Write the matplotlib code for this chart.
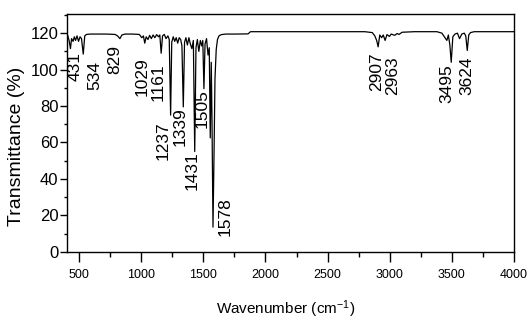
import matplotlib
matplotlib.use("Agg")
import matplotlib.pyplot as plt
from matplotlib.ticker import MultipleLocator

plt.rcParams['font.family'] = ['Liberation Sans', 'DejaVu Sans']
plt.rcParams['mathtext.fontset'] = 'custom'
plt.rcParams['mathtext.rm'] = 'Liberation Sans'
plt.rcParams['mathtext.it'] = 'Liberation Sans'

# IR spectrum (wavenumber in cm-1, transmittance in %)
wavenumber = [400, 410, 420, 431, 440, 452, 462, 472, 484, 496, 508, 520, 534, 546, 560,
              590, 650, 720, 790, 810, 829, 845, 870, 930, 985, 1005, 1018, 1029, 1040,
              1055, 1068, 1082, 1096, 1110, 1125, 1140, 1150, 1161, 1172, 1186, 1200,
              1215, 1226, 1237, 1246, 1258, 1270, 1282, 1294, 1306, 1318, 1328, 1339,
              1349, 1360, 1372, 1384, 1396, 1408, 1420, 1431, 1441, 1452, 1464, 1476,
              1487, 1496, 1505, 1514, 1526, 1538, 1548, 1556, 1564, 1570, 1578, 1586,
              1594, 1604, 1614, 1626, 1645, 1680, 1760, 1860, 1880, 2000, 2300, 2600,
              2800, 2860, 2880, 2895, 2907, 2920, 2935, 2948, 2963, 2978, 2998, 3012,
              3040, 3060, 3075, 3100, 3200, 3380, 3420, 3440, 3460, 3472, 3484, 3495,
              3508, 3525, 3545, 3562, 3580, 3600, 3612, 3624, 3636, 3650, 3680, 3800,
              4000]
transmittance = [120.0, 118.5, 116.0, 111.5, 117.0, 115.5, 118.0, 116.0, 118.5, 115.5, 118.0,
                 117.0, 108.5, 118.5, 119.3, 119.5, 119.5, 119.5, 119.3, 118.5, 117.0,
                 119.0, 119.5, 119.5, 119.3, 117.5, 118.5, 114.5, 118.0, 116.5, 118.8,
                 117.0, 119.0, 117.5, 119.2, 118.0, 119.0, 109.0, 118.5, 119.3, 117.0,
                 118.5, 116.5, 75.0, 115.0, 118.0, 115.5, 117.5, 114.5, 117.5, 116.5,
                 113.0, 79.5, 115.0, 117.5, 113.5, 117.5, 114.0, 111.5, 116.0, 55.0,
                 112.0, 116.5, 110.0, 116.0, 113.0, 116.0, 89.5, 114.0, 117.0, 108.0,
                 112.0, 62.5, 104.0, 72.0, 13.5, 52.0, 95.0, 111.0, 116.5, 118.5, 119.2,
                 119.5, 119.5, 119.6, 120.8, 120.8, 120.8, 120.8, 120.8, 120.3, 118.5,
                 116.0, 112.5, 119.0, 117.5, 119.0, 116.0, 119.2, 118.2, 119.5, 118.8,
                 119.8, 119.3, 120.5, 120.8, 120.8, 120.0, 118.0, 116.0, 119.0, 113.5,
                 104.0, 118.0, 119.5, 120.0, 117.0, 119.5, 120.0, 118.5, 110.5, 119.0,
                 120.3, 120.8, 120.8, 120.8]

peak_labels = ['431', '534', '829', '1029', '1161', '1237', '1339', '1431', '1505', '1578',
               '2907', '2963', '3495', '3624']

# where each rotated label sits (centre x in cm-1, top of text in %)
label_x = [468, 628, 789, 1007, 1135, 1176, 1312, 1409, 1489, 1674, 2896, 3025, 3459, 3621]
label_top = [109.5, 104.5, 113.5, 107, 103.5, 71.5, 79.5, 55, 89, 30, 109.5, 107, 103, 107]

fig = plt.figure(figsize=(5.29, 3.24), dpi=100)
ax = fig.add_axes([0.1259, 0.2231, 0.8457, 0.7336])

ax.plot(wavenumber, transmittance, color='black', linewidth=0.9)

for lab, lx, ly in zip(peak_labels, label_x, label_top):
    ax.text(lx, ly, lab, rotation=90, ha='center', va='top', fontsize=12.5,
            color='black')

ax.set_xlim(400, 4000)
ax.set_ylim(0, 130.5)
ax.xaxis.set_major_locator(MultipleLocator(500))
ax.xaxis.set_minor_locator(MultipleLocator(250))
ax.yaxis.set_major_locator(MultipleLocator(20))
ax.yaxis.set_minor_locator(MultipleLocator(10))
ax.set_yticks(range(0, 121, 20))

ax.tick_params(axis='x', which='major', direction='out', length=7, width=1, pad=5.5,
               labelsize=9)
ax.tick_params(axis='x', which='minor', direction='out', length=3.8, width=1)
ax.tick_params(axis='y', which='major', direction='out', length=5, width=1, pad=0.8,
               labelsize=12)
ax.tick_params(axis='y', which='minor', direction='out', length=2.2, width=1)

for sp in ax.spines.values():
    sp.set_linewidth(1.0)

ax.set_xlabel('Wavenumber (cm$^{-1}$)', fontsize=11)
ax.xaxis.set_label_coords(0.49, -0.198)
ax.set_ylabel('Transmittance (%)', fontsize=14)
ax.yaxis.set_label_coords(-0.092, 0.445)

fig.savefig('out.png', dpi=100)
